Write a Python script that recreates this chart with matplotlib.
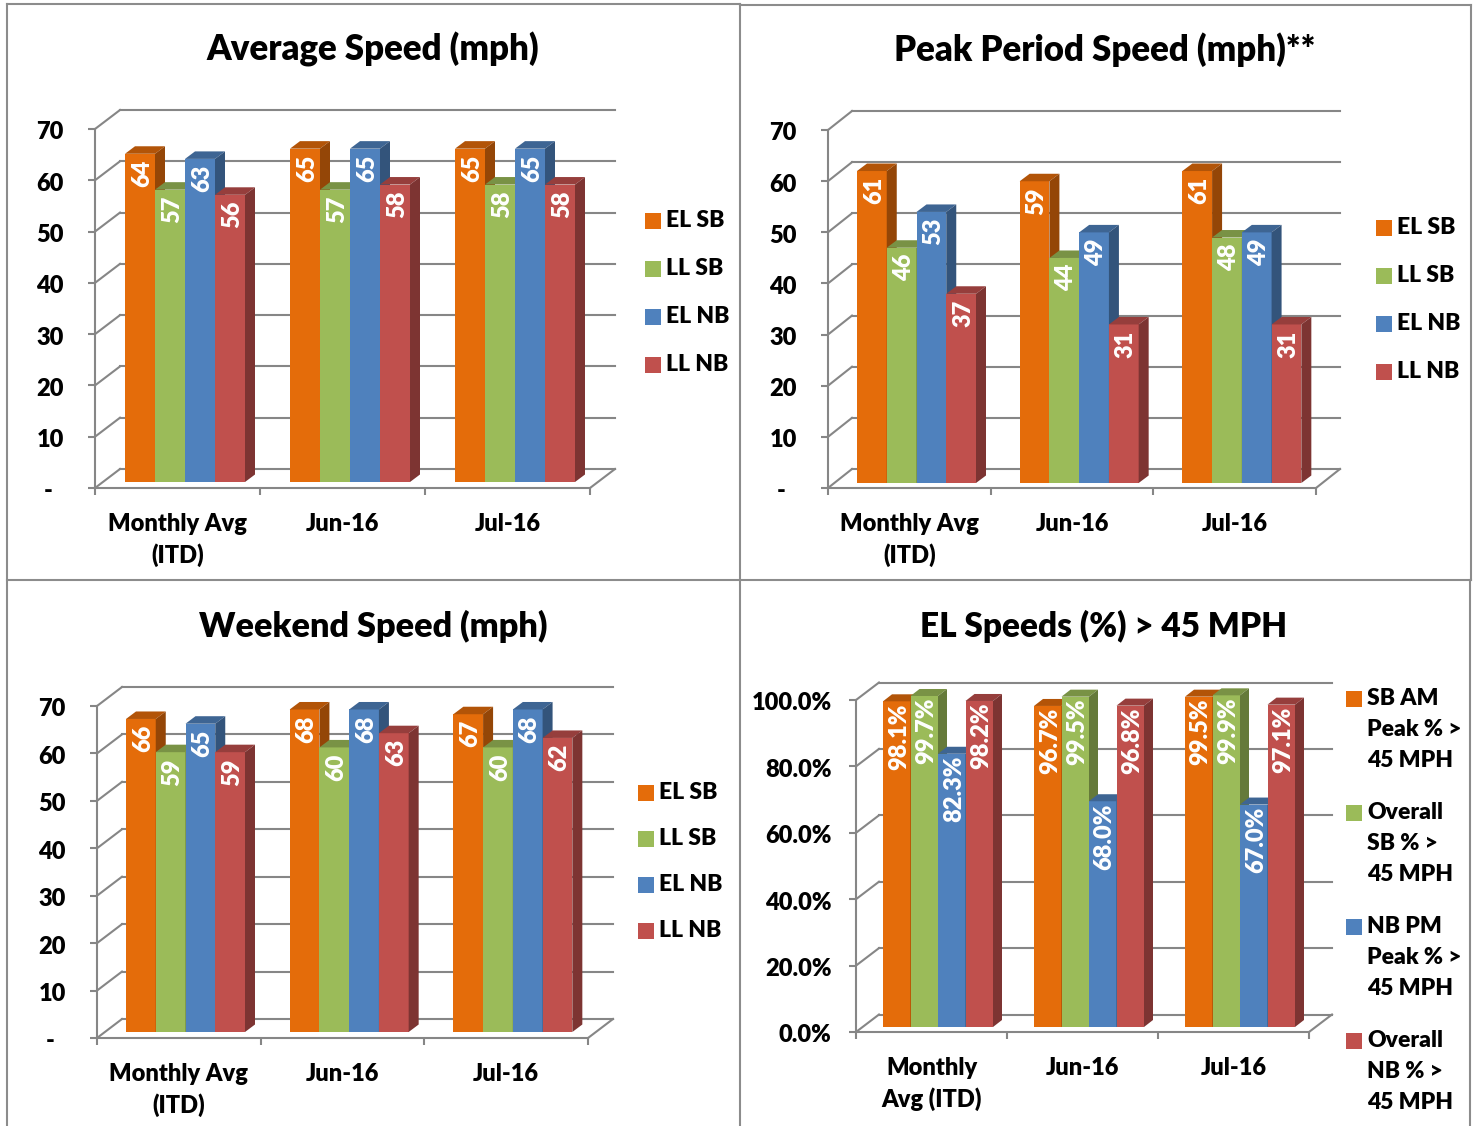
import matplotlib
matplotlib.use('Agg')
import matplotlib.pyplot as plt
from matplotlib.lines import Line2D
from matplotlib.patches import Polygon, Rectangle
from matplotlib.transforms import Affine2D, IdentityTransform

W, H = 1476, 1126

colors = ['#E46C0A', '#9BBB59', '#4F81BD', '#C0504D']
speed_names = ['EL SB', 'LL SB', 'EL NB', 'LL NB']
pct_names = ['SB AM\nPeak % >\n45 MPH', 'Overall\nSB % >\n45 MPH',
             'NB PM\nPeak % >\n45 MPH', 'Overall\nNB % >\n45 MPH']
cats = ['Monthly Avg\n(ITD)', 'Jun-16', 'Jul-16']
cats_pct = ['Monthly\nAvg (ITD)', 'Jun-16', 'Jul-16']

speed_ticks = [0, 10, 20, 30, 40, 50, 60, 70]
speed_ticklabels = ['-  ', '10', '20', '30', '40', '50', '60', '70']
pct_ticks = [0, 20, 40, 60, 80, 100]
pct_ticklabels = ['0.0%', '20.0%', '40.0%', '60.0%', '80.0%', '100.0%']

avg_speed = [[64, 65, 65], [57, 57, 58], [63, 65, 65], [56, 58, 58]]
peak_speed = [[61, 59, 61], [46, 44, 48], [53, 49, 49], [37, 31, 31]]
weekend_speed = [[66, 68, 67], [59, 60, 60], [65, 68, 68], [59, 63, 62]]
el_pct = [[98.1, 96.7, 99.5], [99.7, 99.5, 99.9], [82.3, 68.0, 67.0], [98.2, 96.8, 97.1]]

GRID = '#868686'
FONT = 'Lato'
WEIGHT = 'heavy'
SIZE = 17
plt.rcParams['font.family'] = FONT
plt.rcParams['font.weight'] = WEIGHT

fig = plt.figure(figsize=(W / 100, H / 100), dpi=100)


def fx(x):
    return x / W


def fy(y):
    return 1 - y / H


def shade(color, k):
    r, g, b = matplotlib.colors.to_rgb(color)
    return (r * k, g * k, b * k)


def panel(title, title_xy, title_size, values, names, xlabels, ticks, ticklabels, fmt,
          box, wall, bar_box, depth, legend_xy, legend_ys, label_pad, xlabel_pad, bar_pad):
    # box = left, bottom, right, top of the front plane in image pixels
    x0, y0, x1, y1 = box
    ax = fig.add_axes([fx(x0), fy(y0), fx(x1 - x0), (y0 - y1) / H])
    ax.patch.set_alpha(0)
    ax.set_xlim(0, 3)
    ax.set_ylim(0, ticks[-1])
    ax.autoscale(False)
    for s in ['top', 'right']:
        ax.spines[s].set_visible(False)
    for s in ['left', 'bottom']:
        ax.spines[s].set_color(GRID)
        ax.spines[s].set_linewidth(1.5)

    ax.set_yticks(ticks)
    ax.set_yticklabels(ticklabels, fontsize=SIZE, color='black')
    ax.tick_params(axis='y', length=5, width=1.5, color=GRID, pad=label_pad)
    for lab in ax.get_yticklabels():
        lab.set_transform(lab.get_transform() + Affine2D().translate(0, -1.5))
    ax.set_xticks([0, 1, 2, 3])
    ax.set_xticklabels([])
    ax.tick_params(axis='x', length=5, width=1.5, color=GRID)
    ax.set_xticks([0.5, 1.5, 2.5], minor=True)
    ax.set_xticklabels(xlabels, minor=True, fontsize=SIZE, color='black', linespacing=1.42)
    ax.tick_params(axis='x', which='minor', length=0, pad=xlabel_pad)

    # back wall, floor and the slanted grid ends
    wx, wy = wall
    wall_tr = ax.transData + Affine2D().translate(wx, wy)
    for t in ticks:
        ax.plot([0, 3], [t, t], color=GRID, lw=1.5, transform=wall_tr, zorder=1, clip_on=False)
        px, py = ax.transData.transform((0, t))
        ax.add_line(Line2D([px, px + wx], [py, py + wy], color=GRID, lw=1.5,
                           transform=IdentityTransform(), zorder=1, clip_on=False))
    px, py = ax.transData.transform((3, 0))
    ax.add_line(Line2D([px, px + wx], [py, py + wy], color=GRID, lw=1.5,
                       transform=IdentityTransform(), zorder=1, clip_on=False))

    # bars: front faces through the axes, shifted onto the bar plane
    bar_x, bar_y, bar_w = bar_box
    cat_w = (x1 - x0) / 3
    w = bar_w / cat_w
    dx = bar_x - x0 + 2 * bar_w - cat_w / 2
    front = ax.transData + Affine2D().translate(dx, y0 - bar_y)
    dpx, dpy = depth
    for j, vals in enumerate(values):
        pos = [i + 0.5 + (j - 1.5) * w for i in range(3)]
        z = 3 + j
        ax.bar(pos, vals, width=w, color=colors[j], transform=front, zorder=z, clip_on=False)
        for p, v in zip(pos, vals):
            xa, ya = front.transform((p - w / 2, v))
            xb, yb = front.transform((p + w / 2, v))
            xc, yc = front.transform((p + w / 2, 0))
            ax.add_patch(Polygon([(xa, ya), (xb, yb), (xb + dpx, yb + dpy), (xa + dpx, ya + dpy)],
                                 facecolor=shade(colors[j], 0.78), edgecolor='none',
                                 transform=IdentityTransform(), zorder=z, clip_on=False))
            ax.add_patch(Polygon([(xb, yb), (xc, yc), (xc + dpx, yc + dpy), (xb + dpx, yb + dpy)],
                                 facecolor=shade(colors[j], 0.65), edgecolor='none',
                                 transform=IdentityTransform(), zorder=z, clip_on=False))
            ax.annotate(fmt.format(v), (p, v), xycoords=front, xytext=(2, -bar_pad),
                        textcoords='offset pixels', rotation=90, ha='center', va='top',
                        color='white', fontsize=SIZE, zorder=20)

    fig.text(fx(title_xy[0]), fy(title_xy[1]), title, ha='center', va='center',
             fontsize=title_size, color='black')

    lx, tx = legend_xy
    for j, name in enumerate(names):
        ly = legend_ys[j]
        fig.add_artist(Rectangle((fx(lx), fy(ly + 8)), 16 / W, 16 / H, facecolor=colors[j],
                                 edgecolor='none', transform=fig.transFigure))
        fig.text(fx(tx), fy(ly - 11), name, ha='left', va='top', fontsize=16.5,
                 color='black', linespacing=1.58)


panel('Average Speed (mph)', (373, 49), 25, avg_speed, speed_names, cats,
      speed_ticks, speed_ticklabels, '{:d}',
      (95, 488, 590, 129), (25, 19), (125, 482, 30), (10, 7.5),
      (645, 666), [221, 269, 317, 365], 17.5, 18, 6)
panel('Peak Period Speed (mph)**', (1105, 50), 25, peak_speed, speed_names, cats,
      speed_ticks, speed_ticklabels, '{:d}',
      (828, 488, 1316, 130), (24, 19), (857, 483, 29.75), (10, 7.5),
      (1376, 1397), [228, 276, 324, 372], 17.5, 18, 6)
panel('Weekend Speed (mph)', (373, 626), 24.7, weekend_speed, speed_names, cats,
      speed_ticks, speed_ticklabels, '{:d}',
      (97, 1038, 588, 706), (25, 19), (126, 1032, 29.75), (10, 7.5),
      (638, 659), [793, 839, 885, 931], 17.5, 18, 6)
panel('EL Speeds (%) > 45 MPH', (1104, 626), 24, el_pct, pct_names, cats_pct,
      pct_ticks, pct_ticklabels, '{:.1f}%',
      (856, 1032, 1309, 700), (23, 17.5), (883, 1027, 27.5), (9, 7),
      (1346, 1367), [699, 813, 927, 1041], 12.5, 18, 2)

# panel borders
border = dict(color='#8C8C8C', lw=1.5, transform=fig.transFigure)
for xs, ys in [((7, 7), (4, 1126)), ((740, 740), (4, 1126)), ((1471, 1471), (5, 580)),
               ((1470, 1470), (580, 1126)), ((7, 1471), (580, 580)),
               ((7, 740), (4, 4)), ((740, 1471), (5, 5))]:
    fig.add_artist(Line2D([fx(x) for x in xs], [fy(y) for y in ys], **border))

fig.savefig('out.png', dpi=100)
